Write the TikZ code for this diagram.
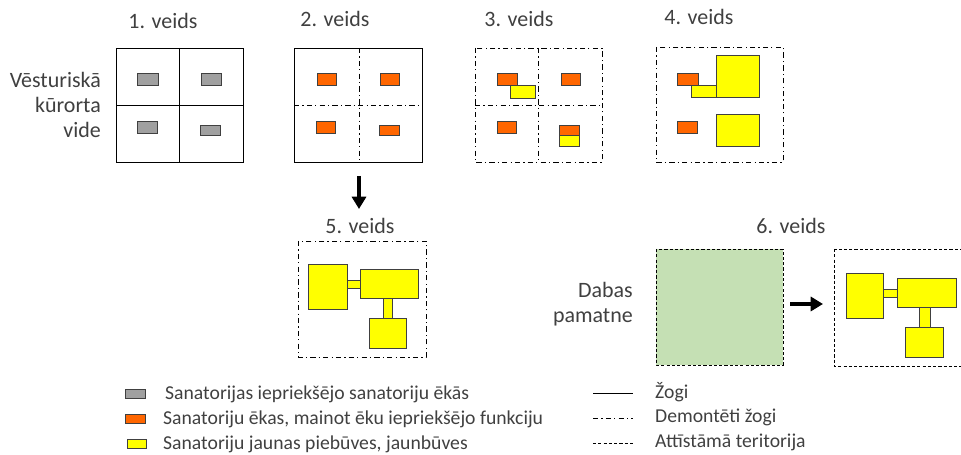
\documentclass[tikz,border=0pt]{standalone}
\usepackage{fontspec}
\setmainfont{Carlito}
\usetikzlibrary{arrows.meta}
\definecolor{txtgray}{RGB}{64,64,64}
\definecolor{bgray}{RGB}{160,160,160}
\definecolor{borange}{RGB}{255,102,0}
\definecolor{byellow}{RGB}{255,255,0}
\definecolor{natgreen}{RGB}{197,224,180}
\tikzset{
  fence/.style={line width=0.5pt},
  demont/.style={line width=0.5pt,dash pattern=on 3pt off 1.8pt on 0.7pt off 1.8pt},
  devel/.style={line width=0.5pt,dash pattern=on 1.8pt off 1.2pt},
  old/.style={draw=black!75,line width=0.55pt,fill=bgray},
  chg/.style={draw=black!75,line width=0.55pt,fill=borange},
  new/.style={draw=black!75,line width=0.55pt,fill=byellow},
  ttl/.style={text=txtgray,font=\fontsize{12.5}{15}\selectfont},
  lbl/.style={text=txtgray,font=\fontsize{12.5}{14.2}\selectfont,align=right,anchor=east},
  lgd/.style={text=txtgray,font=\fontsize{11.2}{13}\selectfont,anchor=west},
  bigarrow/.style={line width=2.3pt,-{Triangle[width=8pt,length=7pt]}}
}
\begin{document}
\begin{tikzpicture}[x=0.02cm,y=-0.02cm]
\useasboundingbox (0,0) rectangle (961,455);
% 1. veids
\node[ttl] (t1) at (163,21) {1. veids};
\node[lbl] (vide) at (107,105) {Vēsturiskā\\kūrorta\\vide};
\draw[fence] (116,48) rectangle (243,162);
\draw[fence] (179,48)--(179,162) (116,105)--(243,105);
\draw[old] (137,73) rectangle (158,85);
\draw[old] (201,73) rectangle (221,85);
\draw[old] (137,121) rectangle (157,133);
\draw[old] (200,125) rectangle (220,135);
% 2. veids
\node[ttl] (t2) at (335,19) {2. veids};
\draw[fence] (294,48) rectangle (422,162);
\draw[demont] (359,48)--(359,162) (294,105)--(422,105);
\draw[chg] (317,73) rectangle (336,85);
\draw[chg] (380,73) rectangle (399,85);
\draw[chg] (316,121) rectangle (335,133);
\draw[chg] (379,125) rectangle (399,135);
% 3. veids
\node[ttl] (t3) at (519,19) {3. veids};
\draw[demont] (475,48) rectangle (602,162);
\draw[demont] (538,48)--(538,162) (475,105)--(602,105);
\draw[new] (510,85) rectangle (535,98);
\draw[chg] (497,73) rectangle (517,85);
\draw[chg] (561,73) rectangle (580,85);
\draw[chg] (497,121) rectangle (516,133);
\draw[chg] (559,125) rectangle (579,135);
\draw[new] (559,135) rectangle (579,146);
% 4. veids
\node[ttl] (t4) at (699,17) {4. veids};
\draw[demont] (656,47) rectangle (783,162);
\draw[new] (691,85) rectangle (716,97);
\draw[new] (716,55) rectangle (759,97);
\draw[chg] (677,73) rectangle (698,85);
\draw[chg] (677,121) rectangle (697,133);
\draw[new] (716,114) rectangle (759,146);
% 2 -> 5
\coordinate (a5s) at (359,176);
\coordinate (a5e) at (359,209);
\draw[bigarrow] (a5s)--(a5e);
% 5. veids
\node[ttl] (t5) at (360,226) {5. veids};
\draw[demont] (298,241) rectangle (426,357);
\draw[new] (347,280) rectangle (360,288);
\draw[new] (383,298) rectangle (392,318);
\draw[new] (308,264) rectangle (347,309);
\draw[new] (360,269) rectangle (418,298);
\draw[new] (369,318) rectangle (406,348);
% 6. veids
\node[ttl] (t6) at (791,226) {6. veids};
\node[lbl] (daba) at (639,304) {Dabas\\pamatne};
\draw[devel,fill=natgreen] (656,249) rectangle (783,365);
\coordinate (a6s) at (790,304);
\coordinate (a6e) at (823,304);
\draw[bigarrow] (a6s)--(a6e);
\draw[devel] (834,249) rectangle (966,366);
\draw[new] (883,289) rectangle (897,297);
\draw[new] (919,307) rectangle (930,327);
\draw[new] (846,273) rectangle (883,318);
\draw[new] (897,278) rectangle (956,307);
\draw[new] (905,327) rectangle (943,357);
% legend
\draw[old] (125,389) rectangle (145,398);
\draw[chg] (125,414) rectangle (145,423);
\draw[new] (127,439) rectangle (146,448);
\node[lgd] (l1) at (159,394) {Sanatorijas iepriekšējo sanatoriju ēkās};
\node[lgd] (l2) at (157,419) {Sanatoriju ēkas, mainot ēku iepriekšējo funkciju};
\node[lgd] (l3) at (157,444) {Sanatoriju jaunas piebūves, jaunbūves};
\draw[fence] (593,393)--(633,393);
\draw[demont] (593,418)--(633,418);
\draw[devel] (593,443)--(633,443);
\node[lgd] (l4) at (649,392) {Žogi};
\node[lgd] (l5) at (649,417) {Demontēti žogi};
\node[lgd] (l6) at (649,442) {Attīstāmā teritorija};
\end{tikzpicture}
\end{document}
